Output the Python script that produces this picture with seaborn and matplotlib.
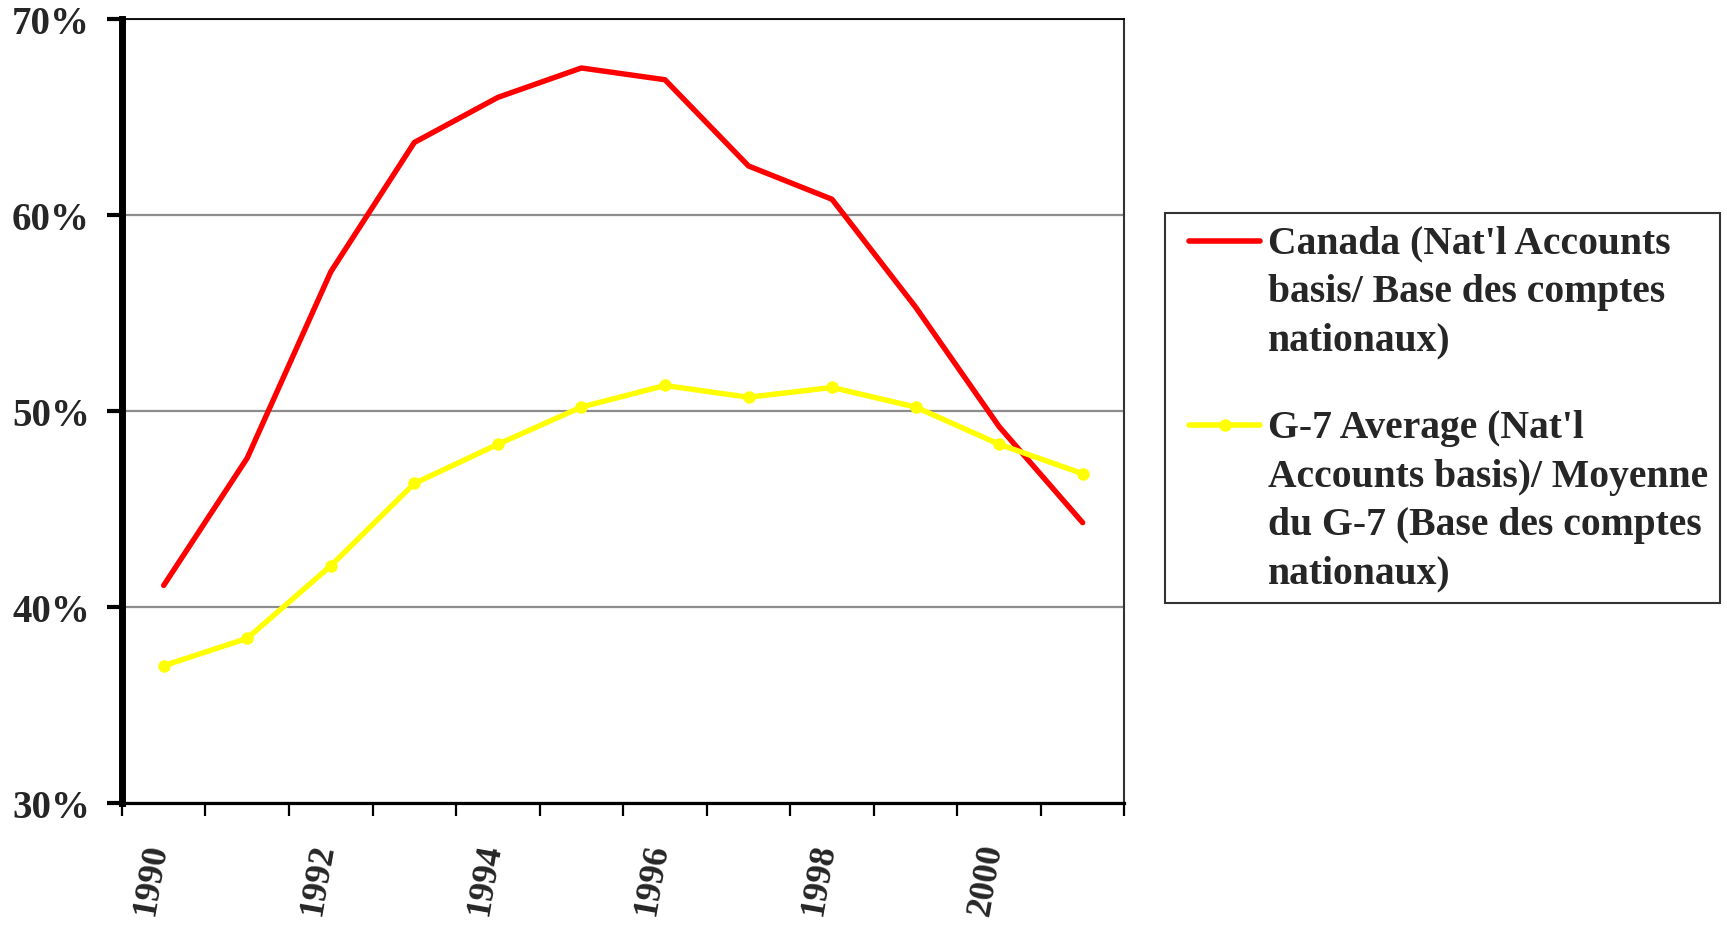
import pandas as pd
import numpy as np
import seaborn as sns
import matplotlib.pyplot as plt
import matplotlib.transforms as mtrans
from matplotlib.ticker import FixedLocator, FuncFormatter

# values (% of GDP)
years = list(range(1990, 2002))
canada = [41.1, 47.6, 57.1, 63.7, 66.0, 67.5, 66.9, 62.5, 60.8, 55.3, 49.2, 44.3]
g7 = [37.0, 38.4, 42.1, 46.3, 48.3, 50.2, 51.3, 50.7, 51.2, 50.2, 48.3, 46.8]
canada_label = "Canada (Nat'l Accounts\nbasis/ Base des comptes\nnationaux)"
g7_label = "G-7 Average (Nat'l\nAccounts basis)/ Moyenne\ndu G-7 (Base des comptes\nnationaux)"
year_labels = ['1990', '1992', '1994', '1996', '1998', '2000']

sns.set_style("white")
plt.rcParams['font.family'] = ['Liberation Serif', 'DejaVu Serif']
plt.rcParams['font.weight'] = 'bold'

idx = np.arange(len(years))

fig = plt.figure(figsize=(17.27, 9.29), dpi=100)
ax = fig.add_axes([0.0706, 0.1346, 0.5805, 0.8439])

# canada line, no markers
sns.lineplot(x=idx, y=canada, color='#ff0000', linewidth=3.9, ax=ax)
# g7 line with round markers
sns.lineplot(x=idx, y=g7, color='#ffff00', linewidth=3.9, marker='o',
             markersize=9, markeredgewidth=0, ax=ax)

ax.set_xlim(-0.5, len(years) - 0.5)
ax.set_ylim(30, 70)
ax.set_xlabel('')
ax.set_ylabel('')

# excel style category axis: tick marks between categories, labels on centres
ax.xaxis.set_major_locator(FixedLocator(np.arange(-0.5, len(years), 1.0)))
ax.xaxis.set_major_formatter(FuncFormatter(lambda v, p: ''))
ax.xaxis.set_minor_locator(FixedLocator([0, 2, 4, 6, 8, 10]))
ax.set_xticklabels(year_labels, minor=True, rotation=80, fontsize=26,
                   fontweight='bold', ha='center', va='top')
ax.tick_params(axis='x', which='major', bottom=True, direction='out', length=9.5,
               width=1.6, color='black')
ax.tick_params(axis='x', which='minor', bottom=True, length=0, pad=27)
shift = mtrans.ScaledTranslation(-0.13, 0, fig.dpi_scale_trans)
for lab in ax.get_xticklabels(minor=True):
    lab.set_transform(lab.get_transform() + shift)

ax.set_yticks([30, 40, 50, 60, 70])
ax.yaxis.set_major_formatter(FuncFormatter(lambda v, p: f'{v:.0f}%'))
ax.tick_params(axis='y', left=True, direction='out', length=11, width=3, color='black',
               labelsize=28, pad=12)
for t in ax.get_yticklabels():
    t.set_fontweight('bold')

ax.grid(axis='y', color='#8c8c8c', linewidth=1.6)
ax.grid(axis='x', visible=False)

ax.spines['left'].set_linewidth(5)
ax.spines['left'].set_color('black')
ax.spines['bottom'].set_linewidth(2.3)
ax.spines['bottom'].set_color('black')
ax.spines['top'].set_linewidth(1.3)
ax.spines['top'].set_color('black')
ax.spines['right'].set_linewidth(1.5)
ax.spines['right'].set_color('#333333')

handles = [
    plt.Line2D([], [], color='#ff0000', linewidth=4),
    plt.Line2D([], [], color='#ffff00', linewidth=4, marker='o', markersize=9, markeredgewidth=0),
]
fs = 28.5
line_sp = 1.40
leg = fig.legend(handles, [canada_label, g7_label], loc='upper left',
                 bbox_to_anchor=(0.6747, 0.770), frameon=True, fancybox=False,
                 prop={'family': 'Liberation Serif', 'weight': 'bold', 'size': fs},
                 handlelength=2.1, handletextpad=0.2, labelspacing=1.3,
                 borderpad=0.3, borderaxespad=0)
leg.get_frame().set_edgecolor('black')
leg.get_frame().set_linewidth(1.5)
for t in leg.get_texts():
    t.set_linespacing(line_sp)

# put each legend line next to the first text line (excel style)
pitch = 29.3 * fs / 27 * line_sp / 1.2
for h, lab in zip(leg.legend_handles, [canada_label, g7_label]):
    n = lab.count('\n') + 1
    x = h.get_xdata()
    y = h.get_ydata()
    h.set_xdata(np.linspace(x[0] + 8.6, x[-1], len(x)))
    h.set_ydata(np.asarray(y) + (n - 1) / 2 * pitch)

plt.savefig('out.png', dpi=100)
